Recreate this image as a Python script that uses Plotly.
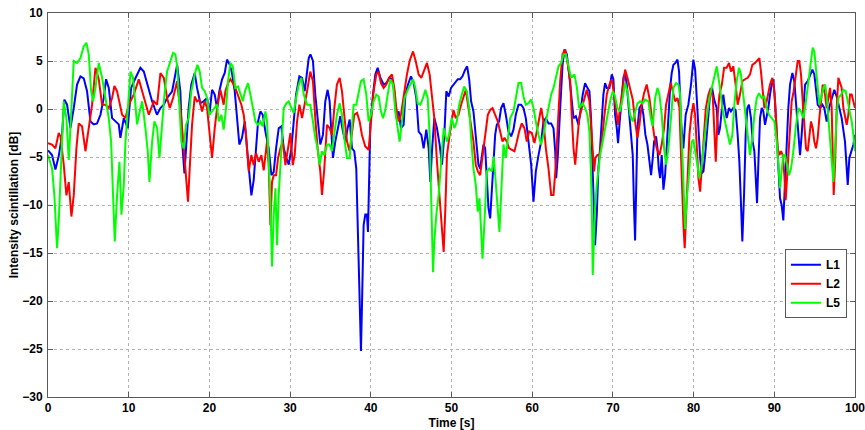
import plotly.graph_objects as go

# ---------------- data ----------------
t_L1 = [0, 0.5, 0.92, 1.33, 1.74, 2.03, 2.36, 2.78, 3.19, 3.6, 4.02, 4.43, 4.84, 5.26, 5.67, 6.08, 6.5, 6.91, 7.2, 7.53,
        7.94, 8.36, 8.77, 8.97, 9.39, 9.88, 10.3, 10.83, 11.45, 11.87, 12.28, 12.9, 13.5, 13.93, 14.35, 14.76, 15.38, 16.0, 16.4, 16.62, 16.91,
        17.1, 17.43, 17.76, 18.18, 18.47, 18.88, 19.29, 19.71, 20.0, 20.33, 20.66, 20.95, 21.23, 21.57, 21.9, 22.18, 22.52, 22.8, 23.14, 23.42,
        23.71, 24.04, 24.38, 24.66, 24.95, 25.2, 25.49, 25.7, 26.03, 26.32, 26.61, 26.94, 27.35, 27.68, 27.97, 28.26, 28.59, 28.92, 29.21, 29.54,
        29.83, 30.16, 30.45, 30.74, 31.15, 31.48, 31.81, 32.1, 32.31, 32.52,
        32.83, 33.12, 33.41, 33.74, 34.07, 34.36, 34.65, 34.9, 35.06, 35.31, 35.6, 35.89, 36.22, 36.55, 36.84, 37.13, 37.38, 37.67, 37.95, 38.2,
        38.37, 38.53, 38.7, 38.78, 38.9, 39.11, 39.32, 39.52, 39.65, 39.77, 39.94, 40.27, 40.56, 40.85, 41.18, 41.59, 41.92, 42.33, 42.62, 42.91,
        43.16, 43.45, 43.74, 44.07, 44.28, 44.61, 44.98, 45.31, 45.64, 45.93, 46.26, 46.55, 46.88, 47.17, 47.38, 47.58, 47.87, 48.2, 48.53, 48.82,
        49.11, 49.36, 49.65, 49.94, 50.27,
        50.45, 50.78, 51.07, 51.36, 51.69, 51.94, 52.19, 52.43, 52.72, 52.93, 53.14, 53.34, 53.55, 53.76, 53.96, 54.17, 54.38, 54.58, 54.79, 55.0,
        55.2, 55.41, 55.61, 55.9, 56.15, 56.44, 56.73, 57.06, 57.39, 57.68, 57.97, 58.3, 58.63, 58.92, 59.21, 59.54, 59.87, 60.16, 60.45, 60.78,
        61.11, 61.4, 61.69, 62.02, 62.35, 62.64, 62.85, 62.97, 63.18, 63.47, 63.76, 64.0, 64.29, 64.58, 64.83, 65.12, 65.41, 65.74,
        66.26, 66.55, 66.84, 67.09, 67.29, 67.46, 67.62, 67.79, 68.0, 68.2, 68.41, 68.62, 68.82, 69.03, 69.24, 69.57, 69.86, 70.06, 70.27, 70.48,
        70.64, 70.81, 71.1, 71.3, 71.51, 71.72, 71.96, 72.21, 72.46, 72.62, 72.75, 72.87, 73.04, 73.29, 73.57, 73.78, 74.03, 74.28, 74.52, 74.73,
        74.94, 75.1, 75.35, 75.52, 75.68, 75.85, 76.05, 76.26, 76.47, 76.67, 76.88, 77.09, 77.29, 77.5, 77.75, 78.0, 78.2, 78.44, 78.73, 79.02,
        79.35, 79.68, 79.97, 80.19, 80.39, 80.6, 80.81, 81.01, 81.22, 81.43, 81.63, 81.84, 82.05, 82.29, 82.54,
        82.86, 83.06, 83.27, 83.48, 83.68, 83.89, 84.1, 84.39, 84.63, 84.92, 85.21, 85.46, 85.67, 85.83, 86.04, 86.25, 86.45, 86.66, 86.86, 87.11,
        87.32, 87.53, 87.69, 87.86, 88.02, 88.23, 88.44, 88.64, 88.85, 89.05, 89.26, 89.47, 89.67, 89.88, 90.09, 90.3, 90.5, 90.71, 90.91, 91.12,
        91.33, 91.53, 91.74, 91.95, 92.24, 92.48, 92.77, 92.98, 93.19, 93.39, 93.6, 93.81, 94.14, 94.43, 94.72, 94.96, 95.17, 95.38, 95.67, 95.96,
        96.2, 96.49, 96.78, 97.11, 97.44, 97.73, 98.02, 98.35, 98.76, 99.1, 99.3, 99.59, 99.8, 100]
v_L1 = [-4.3, -4.8, -6.3, -4.9, -2.7, 0.97, 0.45, -2.0, 0.1, 2.55, 3.4, 3.2, 1.85, -1.3, -1.6, -1.5, -0.6, 1.15, 3.1, 2.2,
        -0.95, -1.3, -1.6, -3.0, -0.95, -2.0, 2.2, 3.2, 4.3, 3.9, 2.55, 0.8, -0.6, 0.1, 0.45, 1.15, 1.85, 4.6, 1.85, -3.4, -6.7,
        -4.1, 0.1, 2.55, 3.75, 2.2, 0.6, 0.8, 1.15, -0.6, 2.0, 1.5, 0.1, 1.85, 3.1, 3.75, 5.15, 4.6, 3.75, 1.85, -0.95,
        -3.7, -3.0, -1.3, -4.1, -7.2, -9.0, -7.4, -4.8, -1.3, -0.25, -0.6, -2.35, -4.1, -6.9, -6.55, -4.1, -2.0, -1.8, -4.1, -5.1,
        -5.8, -4.1, -0.95, 1.5, 3.4, 3.25, 1.85, 3.6, 5.3, 5.7,
        5.0, 1.5, -1.3, -3.7, -2.7, 0.8, 2.0, 0.8, -1.65, -5.1, -3.4, -2.0, -0.75, -2.35, -3.4, -2.0, -1.1, -4.1, -4.4, -6.2,
        -12.1, -17.3, -23.2, -25.2, -20.8, -12.1, -11.0, -11.0, -12.8, -6.2, -1.65, 1.5, 3.6, 4.3, 3.25, 2.55, 2.7, 3.25, 3.1, 1.85,
        -0.95, -0.25, -2.0, -1.65, 1.5, 2.55, 3.4, 2.7, 1.15, -2.35, -2.7, -4.1, -2.15, -4.1, -7.6, -4.4, -0.95, -2.0, -3.7, -5.8,
        -2.7, 1.85, 1.3, 2.2, 2.55,
        2.7, 3.1, 3.1, 3.4, 4.1, 4.45, 3.1, 0.8, -0.25, -2.0, -4.1, -5.8, -6.2, -4.8, -3.7, -4.1, -7.2, -10.3, -11.4, -8.25,
        -4.8, -2.7, -1.65, -1.3, 0.1, 0.6, -0.6, -2.35, -2.85, -2.15, -0.6, 0.45, 0.45, 0.1, -0.95, -3.4, -5.8, -9.65, -6.5, -4.8,
        -3.4, -1.3, -0.95, -1.5, -1.5, -2.0, -4.4, -7.2, -4.8, 0.1, 4.6, 6.2, 5.7, 3.6, 1.15, -0.95, -0.75, -1.65,
        1.5, 2.7, 2.2, 1.85, -0.95, -5.1, -8.95, -14.2, -11.0, -6.2, -4.1, -1.3, 1.5, 2.7, 2.2, 2.2, 3.6, 3.1, -0.6, -2.0,
        -3.55, -1.65, 0.8, 3.25, 3.75, 2.55, 0.1, -2.7, -4.8, -10.3, -13.7, -8.95, -2.0, 0.1, 0.45, -0.6, -2.7, -3.7, -5.5, -6.9,
        -5.1, -3.4, -2.85, -4.1, -6.2, -7.2, -4.8, -8.4, -6.9, -4.1, -0.25, 2.2, 3.75, 4.6, 4.8, 5.15, 3.9, -1.3, -4.1, -0.6,
        0.45, 2.55, 5.15, 4.1, 1.15, -2.35, -5.1, -6.7, -6.5, -4.8, -2.7, 0.1, 1.65, 2.2, 1.0,
        0.1, -2.7, -2.0, 0.1, 1.5, 0.1, -0.95, 0.1, -0.25, 0.1, -0.1, -2.7, -5.5, -8.95, -13.8, -8.95, -2.7, 0.1, 0.45, -0.95,
        -3.4, -4.4, -7.6, -9.8, -5.8, -0.95, 0.1, -0.25, -1.65, -0.95, 0.1, 1.5, 2.55, 3.1, 0.8, -2.7, -6.2, -9.3, -10.0, -11.6,
        -7.6, -3.4, 0.1, 2.55, 3.75, 2.9, 0.1, -2.0, -4.8, -2.7, 0.1, 2.55, 2.9, 3.6, 4.1, 3.6, 2.2, 0.45, 0.1, 0.45,
        0.1, -1.3, 0.1, 1.15, 2.0, 1.3, 0.1, -0.95, -3.4, -7.9, -5.1, -4.4, -3.7, -2.7]

t_L2 = [0, 0.5, 0.92, 1.33, 1.54, 1.95, 2.28, 2.57, 2.9, 3.19, 3.52, 3.81, 4.22, 4.64, 5.05, 5.46, 5.88, 6.29, 6.7, 7.12,
        7.53, 7.94, 8.23, 8.56, 9.18, 9.6, 10.01, 10.63, 11.25, 11.67, 12.07, 12.49, 13.11, 13.52, 13.93, 14.35, 14.76, 15.09, 15.5, 16.0,
        16.11, 16.4, 16.69, 17.02, 17.35, 17.56, 17.85, 18.18, 18.47, 18.76, 19.09, 19.42, 19.71, 20.0, 20.33, 20.66, 20.95, 21.36, 21.77, 21.98,
        22.31, 22.6, 23.01, 23.3, 23.63, 23.96, 24.25, 24.54, 24.87, 25.2, 25.49, 25.78, 26.11, 26.44, 26.73, 26.94, 27.14, 27.35, 27.56, 27.76,
        27.97, 28.26, 28.51, 28.8, 29.09, 29.42, 29.75, 30.04, 30.33, 30.57, 30.86, 31.15, 31.48, 31.81, 32.1,
        32.5, 32.83, 33.12, 33.41, 33.74, 33.95, 34.24, 34.57, 34.9, 35.19, 35.48, 35.8, 36.14, 36.43, 36.71, 37.05, 37.38, 37.67, 37.95, 38.29,
        38.62, 38.9, 39.32, 39.73, 40.02, 40.35, 40.68, 40.97, 41.26, 41.59, 41.92, 42.25, 42.62, 42.91, 43.16, 43.45, 43.74, 44.07, 44.48, 44.81,
        45.23, 45.56, 45.93, 46.26, 46.63, 46.96, 47.29, 47.58, 47.87, 48.2, 48.53, 48.82, 49.03, 49.24, 49.44, 49.77, 50.06,
        50.24, 50.53, 50.86, 51.19, 51.48, 51.77, 52.1, 52.43, 52.72, 53.01, 53.26, 53.55, 53.76, 54.04, 54.25, 54.5, 54.79, 55.08, 55.41, 55.74,
        56.03, 56.32, 56.57, 56.86, 57.14, 57.47, 57.8, 58.1, 58.38, 58.71, 59.04, 59.33, 59.62, 59.95, 60.28, 60.57, 60.86, 61.11, 61.4, 61.69,
        62.02, 62.35, 62.64, 62.93, 63.18, 63.47, 63.76, 64.09, 64.42, 64.71, 64.92, 65.12, 65.33, 65.54, 65.82,
        66.15, 66.48, 66.76, 67.09, 67.29, 67.5, 67.67, 67.83, 68.08, 68.33, 68.62, 68.91, 69.24, 69.57, 69.86, 70.15, 70.39, 70.64, 70.89, 71.18,
        71.51, 71.8, 72.13, 72.46, 72.75, 73.04, 73.29, 73.57, 73.86, 74.19, 74.52, 74.81, 75.1, 75.43, 75.77, 76.05, 76.34, 76.59, 76.88, 77.17,
        77.42, 77.71, 78.0, 78.25, 78.41, 78.57, 78.74, 78.9, 79.07, 79.24, 79.48, 79.73, 79.98, 80.19, 80.39, 80.6, 80.81, 81.01, 81.22, 81.51,
        81.84, 82.13, 82.38, 82.59, 82.75, 82.96, 83.2, 83.5, 83.78,
        84.1, 84.39, 84.63, 84.92, 85.21, 85.46, 85.75, 86.04, 86.37, 86.7, 86.99, 87.28, 87.61, 87.94, 88.15, 88.35, 88.56, 88.77, 88.97, 89.18,
        89.47, 89.76, 90.01, 90.21, 90.42, 90.63, 90.83, 91.04, 91.25, 91.41, 91.58, 91.74, 91.95, 92.15, 92.4, 92.65, 92.9, 93.1, 93.31, 93.52,
        93.72, 93.93, 94.14, 94.34, 94.55, 94.76, 94.96, 95.17, 95.38, 95.58, 95.79, 96.0, 96.29, 96.49, 96.7, 96.91, 97.11, 97.24, 97.36, 97.53,
        97.73, 97.94, 98.15, 98.35, 98.56, 98.76, 98.97, 99.18, 99.38, 99.59, 99.8, 100]
v_L2 = [-3.55, -3.7, -4.1, -2.5, -2.85, -5.8, -9.0, -7.6, -11.2, -9.0, -4.1, -1.5, -1.8, -4.4, -2.0, 0.45, 4.3, 3.1, 0.45, 0.45,
        0.1, 1.15, 2.4, 1.85, -0.6, -0.95, 0.45, 1.5, 3.1, 1.85, 0.8, -0.6, 0.8, 0.45, 3.75, 3.25, 1.15, 0.1, 1.15, 2.9,
        1.85, 0.1, -2.7, -5.85, -9.65, -6.2, -1.65, 1.3, 0.8, 0.95, -0.25, 0.8, 0.1, -2.35, -5.1, -2.0, 0.1, 2.0, 0.45, 1.85,
        2.7, 3.1, 2.55, 2.0, 1.15, 0.45, -0.6, -2.7, -6.5, -4.8, -5.85, -4.6, -5.5, -4.8, -6.4, -4.5, -3.4, -5.85, -12.1, -7.6,
        -6.9, -6.9, -5.1, -4.1, -3.4, -5.85, -4.1, -2.5, -5.85, -4.8, -1.3, 0.45, -0.95, 0.45, 1.85,
        3.9, 2.9, -0.95, -4.1, -6.5, -8.95, -6.2, -1.65, -2.0, -2.7, 0.1, 2.55, 3.25, 1.85, -0.6, -3.4, -4.4, -2.7, -0.6, -0.4,
        -1.3, -2.7, -3.9, -4.25, -1.3, 1.85, 3.6, 3.9, 2.7, 2.2, 2.55, 3.25, 3.6, 2.2, 0.1, -1.3, -0.6, 1.5, 3.6, 5.0,
        6.0, 5.0, 3.6, 3.25, 4.1, 4.8, 3.6, 1.5, -0.95, -5.5, -8.95, -12.1, -14.9, -10.3, -4.8, -2.7, -0.95,
        -0.1, -0.95, -0.6, 0.45, 1.15, 2.0, 0.1, -1.65, -3.4, -5.8, -6.5, -6.9, -5.5, -4.1, -2.7, -0.6, -0.1, 0.1, -0.6, -1.3,
        -2.35, -3.4, -3.0, -3.4, -4.1, -4.25, -4.4, -3.4, -2.35, -1.5, -2.0, -3.4, -2.35, -2.5, -3.55, -2.35, -0.95, 0.1, -1.3, -4.1,
        -6.2, -8.95, -8.95, -5.8, -1.65, 2.9, 5.7, 6.2, 4.6, 2.9, -0.95, -4.1, -5.8, -3.4, -0.95,
        0.1, 1.15, 2.0, 0.8, -1.65, -4.8, -6.5, -5.1, -4.8, -4.8, -3.4, -0.95, 1.5, 2.55, 3.1, 1.5, -0.25, -1.65, 0.1, 2.2,
        4.1, 3.25, 2.2, 1.0, -1.3, -3.0, -1.65, 0.45, 1.65, 2.55, 1.15, -0.95, -2.7, -4.1, -4.8, -3.7, -2.0, 0.45, 1.5, 2.7,
        1.85, 0.8, 1.15, 0.1, -4.1, -8.6, -12.1, -14.5, -11.0, -6.9, -2.7, -0.6, 0.6, -0.6, -4.1, -7.2, -8.6, -6.2, -2.7, 0.1,
        1.5, 2.2, 1.15, -3.4, -5.5, -0.95, 1.5, 2.55, 4.3,
        4.3, 4.8, 3.9, 4.45, 2.55, 0.45, 1.5, 2.9, 3.1, 3.25, 3.6, 4.6, 4.8, 5.15, 5.3, 3.9, 1.5, 0.1, 0.45, 1.5,
        2.55, 3.25, 1.85, -0.95, -4.1, -4.8, -4.4, -4.8, -6.9, -9.5, -7.2, -4.1, -1.3, 0.8, 1.85, 3.6, 5.0, 5.0, 3.6, 0.8,
        -2.0, -4.1, -4.4, -3.0, -1.3, -2.0, -3.4, -4.1, -3.0, -0.95, 1.15, 2.55, 1.5, 0.1, 1.15, 2.2, 0.1, -5.1, -8.95, -5.8,
        0.1, 3.25, 2.55, 2.2, 0.1, -0.95, -1.65, -0.6, 1.5, 1.5, 0.8, 0.1]

t_L5 = [0, 0.5, 0.79, 1.12, 1.33, 1.62, 1.95, 2.28, 2.57, 2.86, 3.19, 3.6, 4.02, 4.43, 4.76, 5.05, 5.34, 5.59, 5.88, 6.29,
        6.7, 7.12, 7.53, 7.82, 8.07, 8.27, 8.56, 8.85, 9.1, 9.39, 9.6, 9.93, 10.22, 10.54, 10.83, 11.04, 11.37, 11.67, 12.07, 12.36,
        12.57, 12.9, 13.19, 13.52, 13.81, 14.14, 14.43, 14.76, 15.17, 15.5,
        15.78, 15.99, 16.28, 16.52, 16.81, 17.1, 17.43, 17.76, 18.18, 18.51, 18.8, 19.09, 19.42, 19.71, 20.0, 20.33, 20.66, 20.95, 21.15, 21.48,
        21.77, 22.06, 22.31, 22.6, 22.89, 23.22, 23.55, 23.84, 24.13, 24.46, 24.79, 25.08, 25.37, 25.7, 26.03, 26.32, 26.61, 26.94, 27.14, 27.35,
        27.56, 27.76, 27.97, 28.18, 28.38, 28.59, 28.8, 29.0, 29.21, 29.54, 29.83, 30.16, 30.45, 30.74, 31.07, 31.4, 31.69, 32.1,
        32.5, 32.83, 33.12, 33.41, 33.66, 33.95, 34.24, 34.57, 34.9, 35.19, 35.48, 35.8, 36.14, 36.43, 36.71, 37.05, 37.38, 37.67, 37.87, 38.2,
        38.49, 38.78, 39.11, 39.44, 39.73, 40.02, 40.35, 40.68, 40.97, 41.26, 41.51, 41.8, 42.09, 42.42, 42.75, 43.04, 43.33, 43.57, 43.86, 44.19,
        44.57, 44.9, 45.23, 45.52, 45.81, 46.14, 46.47, 46.76, 47.05, 47.29, 47.46, 47.62, 47.71, 47.87, 48.12, 48.41, 48.7, 49.03,
        49.42, 49.7, 50.03, 50.36, 50.66, 50.95, 51.28, 51.57, 51.9, 52.19, 52.43, 52.72, 53.01, 53.26, 53.47, 53.67, 53.84, 54.09, 54.38, 54.67,
        55.0, 55.24, 55.49, 55.74, 55.94, 56.15, 56.44, 56.73, 56.98, 57.27, 57.68, 57.97, 58.3, 58.63, 58.92, 59.21, 59.54, 59.87, 60.16, 60.45,
        60.78, 61.11, 61.4, 61.69, 62.02, 62.35, 62.64, 62.93, 63.26, 63.59, 63.88, 64.17, 64.5, 64.83, 65.24, 65.54, 65.82,
        66.26, 66.55, 66.84, 67.09, 67.29, 67.42, 67.5, 67.62, 67.79, 68.0, 68.2, 68.41, 68.74, 69.03, 69.32, 69.65, 69.98, 70.27, 70.56, 70.89,
        71.22, 71.51, 71.8, 72.13, 72.46, 72.75, 73.04, 73.37, 73.7, 73.99, 74.4, 74.69, 74.94, 75.23, 75.52, 75.77, 76.05, 76.34, 76.59, 76.88,
        77.17, 77.5, 77.83, 78.12, 78.33, 78.53, 78.74, 78.95, 79.15, 79.36, 79.57, 79.77, 79.98, 80.19, 80.48, 80.72, 81.01, 81.3, 81.63, 81.96,
        82.25, 82.54, 82.87, 83.27,
        83.56, 83.89, 84.22, 84.5, 84.8, 85.05, 85.34, 85.63, 85.87, 86.16, 86.45, 86.7, 86.99, 87.28, 87.53, 87.82, 88.1, 88.44, 88.77, 89.05,
        89.34, 89.67, 90.01, 90.3, 90.5, 90.71, 90.91, 91.12, 91.33, 91.53, 91.82, 92.07, 92.36, 92.65, 92.98, 93.31, 93.6, 93.81, 94.1, 94.34,
        94.55, 94.76, 94.96, 95.17, 95.38, 95.58, 95.79, 96.08, 96.29, 96.49, 96.7, 96.91, 97.11, 97.32, 97.53, 97.73, 97.94, 98.27, 98.56, 98.85,
        99.18, 99.38, 99.59, 99.8, 100]
v_L5 = [-4.8, -6.2, -9.0, -14.5, -11.7, -5.5, 0.8, -0.95, -5.3, -0.6, 5.0, 4.8, 5.3, 6.55, 6.9, 5.7, 1.85, 0.8, 2.2, 4.8,
        3.25, 1.15, -0.95, -3.4, -9.6, -13.8, -9.0, -5.5, -11.0, -7.9, -3.4, 0.1, 3.9, 3.25, 0.1, -1.6, -0.25, 0.8, -2.0, -4.4,
        -7.6, -3.4, -1.3, -2.0, -5.1, -1.6, 1.5, 3.9, 5.0, 5.85,
        5.7, 4.6, 0.45, -3.4, -4.1, -1.65, -0.95, 1.85, 3.6, 4.6, 3.9, 2.2, 1.85, 1.15, -0.6, -0.25, 0.1, 0.45, -1.3, -0.6,
        -2.15, 0.1, 2.9, 4.8, 4.45, 2.2, 2.35, 1.5, 0.8, 2.0, 2.7, 1.5, 0.1, -1.3, -1.65, -1.3, -1.8, -0.25, -1.3, -4.8,
        -9.65, -16.4, -11.0, -8.25, -14.2, -8.95, -5.5, -2.7, 0.1, 0.6, 0.8, 0.1, -0.4, 1.15, 2.55, 3.25, 1.5, 0.45,
        0.45, -1.3, -3.0, -4.1, -5.8, -4.4, -4.8, -3.7, -3.7, -4.4, -2.7, -0.6, 0.6, -0.6, -3.0, -5.1, -5.1, -1.3, 0.45, 0.45,
        1.85, 2.9, 3.1, 1.5, -1.3, -0.6, 0.8, 1.5, 1.3, -0.25, -0.95, -0.1, 1.5, 3.1, 2.55, -0.25, -2.0, -3.4, -1.3, 1.15,
        2.0, 2.55, 3.1, 2.2, 0.6, 0.45, 1.15, 2.0, 1.15, -2.7, -7.9, -13.8, -17.0, -13.8, -11.0, -8.95, -5.5, -2.0,
        -3.4, -2.7, -0.95, -2.0, -1.3, 0.45, 1.5, 2.35, 1.85, 0.1, -3.0, -6.2, -7.9, -10.7, -9.3, -13.1, -15.6, -11.7, -6.5, -6.2,
        -6.5, -4.95, -7.6, -10.3, -12.8, -8.95, -3.7, -5.1, -3.4, -0.95, -0.25, 1.15, 2.7, 2.7, 1.3, 0.45, 0.6, 1.0, 0.1, -1.3,
        -2.7, -3.7, -2.7, -1.3, 0.1, 1.5, 2.2, 3.25, 4.45, 4.8, 5.7, 5.7, 4.6, 3.25, 3.6, 2.2, 0.1,
        0.6, 0.1, -0.6, -2.35, -6.9, -12.1, -17.3, -14.5, -10.3, -7.9, -6.2, -4.8, -3.4, -2.0, -0.6, 0.8, 1.85, 1.3, 0.1, -0.25,
        1.15, 2.7, 1.85, -0.6, -1.3, -0.25, 0.6, 0.8, 0.6, 1.0, 0.8, -0.95, -1.8, 1.15, 2.2, 1.5, -0.6, -4.1, -5.8, -4.1,
        -0.95, 2.2, 2.7, 2.55, 1.5, -2.7, -6.9, -12.5, -9.3, -7.6, -5.1, -3.4, -3.2, -4.4, -5.8, -7.2, -5.8, -3.4, -0.95, 1.15,
        2.2, 3.4, 4.45, 2.2,
        0.1, -1.3, -2.7, -3.7, -2.7, 0.45, 2.9, 4.3, 3.6, 1.15, -0.95, -2.7, -4.8, -3.0, -0.6, 1.15, 1.65, 1.15, 1.3, 0.1,
        -0.6, -0.95, -1.3, -3.4, -5.5, -8.25, -6.5, -4.8, -4.8, -5.8, -6.9, -6.2, -4.4, -2.0, 0.1, -0.25, -0.95, 0.1, 2.2, 3.9,
        5.3, 6.4, 6.0, 4.3, 1.85, 0.45, 1.15, 2.2, 2.55, 1.5, -0.95, -3.0, -5.1, -7.6, -4.1, -0.6, 1.15, 1.5, 2.0, 1.85,
        0.45, -0.25, -1.3, -2.7, -4.4]

series_names = ["L1", "L2", "L5"]
series_colors = ["#0000ff", "#ff0000", "#00ff00"]
x_ticks = list(range(0, 101, 10))
y_ticks = list(range(-30, 11, 5))

x_title = "Time [s]"
y_title = "Intensity scintillation [dB]"

# ---------------- figure ----------------
FONT = "Liberation Sans, Arial, Helvetica, sans-serif"
fig = go.Figure()
for name, tt, vv, col in zip(series_names, [t_L1, t_L2, t_L5], [v_L1, v_L2, v_L5], series_colors):
    fig.add_trace(go.Scatter(x=tt, y=vv, mode="lines", name=name,
                             line=dict(color=col, width=2)))

axis_common = dict(
    showline=True, linecolor="#5a5a5a", linewidth=1, mirror="allticks",
    ticks="inside", ticklen=5, tickcolor="#5a5a5a",
    showgrid=True, gridcolor="#b4b4b4", griddash="dot", gridwidth=1,
    zeroline=False, automargin=False, ticklabeloverflow="allow",
    tickfont=dict(family=FONT, size=12, color="black", weight="bold"),
)

fig.update_layout(
    width=865, height=430,
    margin=dict(l=48, r=10, t=13, b=33),
    paper_bgcolor="white", plot_bgcolor="white",
    showlegend=True,
    legend=dict(x=0.99, xanchor="right", y=0.385, yanchor="top",
                bordercolor="#5a5a5a", borderwidth=1, bgcolor="white",
                font=dict(family=FONT, size=12, color="black", weight="bold"),
                tracegroupgap=0, itemwidth=30),
    xaxis=dict(range=[0, 100], tickvals=x_ticks,
               title=dict(text=x_title, standoff=6,
                          font=dict(family=FONT, size=12, color="black", weight="bold")),
               **axis_common),
    yaxis=dict(range=[-30, 10], tickvals=y_ticks, ticklabelstandoff=2,
               title=dict(text=y_title, standoff=1,
                          font=dict(family=FONT, size=12, color="black", weight="bold")),
               **axis_common),
)

fig.write_html("out.html")
